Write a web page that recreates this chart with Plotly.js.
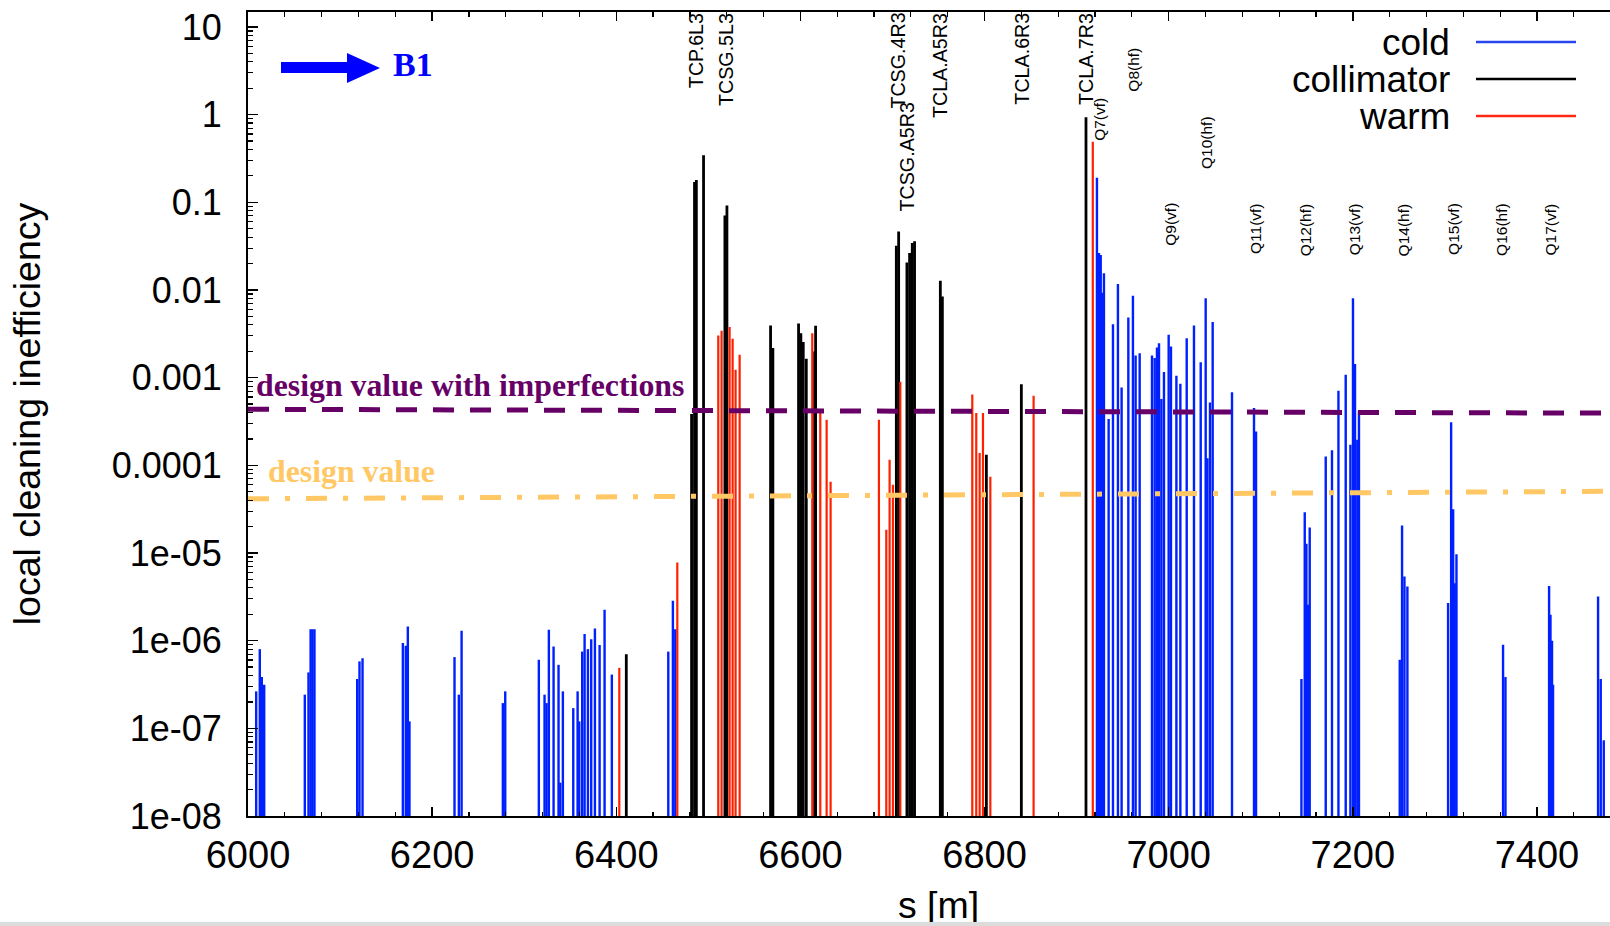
<!DOCTYPE html>
<html>
<head>
<meta charset="utf-8">
<script src="https://cdn.plot.ly/plotly-3.0.1.min.js"></script>
<style>
  html, body { margin: 0; padding: 0; overflow: hidden; background: #fff; width: 1610px; height: 926px; }
  #chart { width: 1640px; height: 926px; }
  #strip { position: absolute; left: 0; bottom: 0; width: 1610px; height: 4px; background: #dcdcdc; }
</style>
</head>
<body>
<div id="chart"></div>
<div id="strip"></div>
<script>
// ---- loss map data: s position [m] and local cleaning inefficiency ----
const coldS = [6008.9, 6012.8, 6015.0, 6017.6,
  6061.7, 6065.7, 6068.0, 6070.0, 6072.2,
  6118.6, 6121.1, 6124.4,
  6168.2, 6171.4, 6173.6, 6175.4,
  6224.3, 6229.0, 6232.0,
  6276.8, 6279.4,
  6315.9, 6322.1, 6324.3, 6326.8, 6331.9, 6337.3, 6339.2, 6342.0, 6353.3, 6358.0, 6359.8,
  6363.0, 6365.6, 6369.2, 6372.8, 6376.8, 6381.9, 6387.3, 6395.2,
  6456.5, 6461.5, 6464.1,
  6922.1, 6924.3, 6926.2, 6927.5, 6929.7, 6934.8, 6939.5, 6944.9, 6948.9, 6956.2, 6961.2,
  6964.1, 6968.5, 6981.9, 6984.8, 6987.3, 6989.5, 6992.1, 6994.9, 7000.0, 7002.5, 7008.4,
  7012.7, 7019.6, 7027.5, 7034.8, 7040.2, 7042.1, 7044.9, 7047.8,
  7068.8, 7092.7, 7094.9,
  7144.2, 7147.8, 7149.6, 7151.3, 7153.2,
  7170.6, 7177.4, 7184.4, 7192.3, 7197.4, 7200.2, 7202.4, 7204.9, 7206.7,
  7251.0, 7253.5, 7256.1, 7259.3,
  7303.5, 7306.8, 7309.0, 7310.7, 7312.6,
  7363.2, 7365.8,
  7413.2, 7414.7, 7416.4, 7417.5,
  7466.4, 7469.3, 7472.6];
const coldEta = [2.64e-7, 8.0e-7, 3.85e-7, 3.14e-7,
  2.42e-7, 4.34e-7, 1.35e-6, 1.35e-6, 1.35e-6,
  3.65e-7, 5.8e-7, 6.3e-7,
  9.4e-7, 8.75e-7, 1.45e-6, 1.2e-7,
  6.5e-7, 2.42e-7, 1.3e-6,
  1.94e-7, 2.64e-7,
  6.05e-7, 2.42e-7, 1.94e-7, 1.33e-6, 8.6e-7, 5.3e-7, 2.4e-8, 2.64e-7, 1.7e-7, 2.64e-7, 1.2e-7,
  7.5e-7, 1.19e-6, 8.0e-7, 1.04e-6, 1.38e-6, 8.9e-7, 2.25e-6, 4.1e-7,
  7.5e-7, 2.85e-6, 1.35e-6,
  0.19, 0.0263, 0.0251, 9.3e-3, 0.0155, 3.37e-4, 4.07e-3, 0.01165, 7.7e-4, 4.84e-3, 8.6e-3,
  1.79e-3, 1.9e-3, 1.79e-3, 1.67e-3, 2.2e-3, 2.47e-3, 5.7e-4, 1.16e-3, 3.08e-3, 2.26e-3, 1.05e-3,
  8.5e-4, 2.82e-3, 3.93e-3, 1.5e-3, 8.05e-3, 1.2e-4, 5.2e-4, 4.3e-3,
  6.8e-4, 4.49e-4, 2.43e-4,
  3.65e-7, 2.92e-5, 1.27e-5, 2.56e-6, 1.95e-5,
  1.26e-4, 1.48e-4, 7.1e-4, 1.08e-3, 1.71e-4, 8.05e-3, 1.43e-3, 1.95e-4, 4.18e-4,
  6.05e-7, 2.06e-5, 5.4e-6, 4.15e-6,
  2.69e-6, 3.1e-4, 3.16e-5, 4.5e-6, 9.7e-6,
  9.0e-7, 3.85e-7,
  4.2e-6, 1.97e-6, 1.0e-6, 3.14e-7,
  3.19e-6, 3.65e-7, 7.3e-8];

const collS = [6410.9, 6481.8, 6485.0, 6487.0, 6494.8, 6518.0, 6520.2, 6567.6, 6570.1,
  6598.0, 6600.5, 6603.1, 6606.4, 6615.4, 6616.5,
  6704.2, 6706.7, 6715.7, 6718.6, 6721.5, 6724.0, 6752.0, 6754.2, 6802.0, 6840.0, 6910.2];
const collEta = [7.0e-7, 3.84e-4, 0.17, 0.18, 0.344, 0.0705, 0.0916, 3.93e-3, 2.17e-3,
  4.14e-3, 3.21e-3, 2.54e-3, 1.64e-3, 1.99e-3, 3.9e-3,
  0.032, 0.0463, 0.0205, 0.0263, 0.0342, 0.036, 0.0127, 8.4e-3, 1.32e-4, 8.4e-4, 0.93];

const warmS = [6403.3, 6466.3, 6510.8, 6514.4, 6523.1, 6526.4, 6529.6, 6534.0,
  6612.9, 6621.6, 6628.5, 6632.8, 6685.3, 6693.3, 6696.9, 6700.5, 6708.5,
  6786.7, 6791.0, 6794.7, 6798.3, 6806.3, 6853.3, 6917.6];
const warmEta = [4.9e-7, 7.8e-6, 3.02e-3, 3.42e-3, 3.77e-3, 2.77e-3, 1.23e-3, 1.82e-3,
  3.21e-3, 4.0e-4, 3.3e-4, 6.5e-5, 3.3e-4, 1.84e-5, 1.16e-4, 6.0e-5, 9.0e-4,
  6.4e-4, 3.94e-4, 1.38e-4, 3.94e-4, 7.4e-5, 6.2e-4, 0.49];

// reference levels
const levelS = [6000, 7500];
const imperfEta = [4.35e-4, 3.93e-4];
const designEta = [4.15e-5, 5.06e-5];

// element names and their s positions
const elementNames = ['TCP.6L3', 'TCSG.5L3', 'TCSG.4R3', 'TCSG.A5R3', 'TCLA.A5R3', 'TCLA.6R3', 'TCLA.7R3',
  'Q7(vf)', 'Q8(hf)', 'Q9(vf)', 'Q10(hf)', 'Q11(vf)', 'Q12(hf)', 'Q13(vf)', 'Q14(hf)', 'Q15(vf)',
  'Q16(hf)', 'Q17(vf)'];
const elementS = [6486.2, 6518.7, 6705.6, 6714.7, 6751.2, 6840.3, 6910.2,
  6924.7, 6960.9, 7001.7, 7041.1, 7094.3, 7149.0, 7201.5, 7255.5, 7308.7, 7361.4, 7414.7];

const yTickVals = [10, 1, 0.1, 0.01, 0.001, 1e-4, 1e-5, 1e-6, 1e-7, 1e-8];
const yTickText = ['10', '1', '0.1', '0.01', '0.001', '0.0001', '1e-05', '1e-06', '1e-07', '1e-08'];

const seriesNames = ['cold', 'collimator', 'warm'];
const seriesColors = ['rgb(0,32,255)', '#000000', 'rgb(255,32,0)'];
const legendColors = ['rgb(40,70,240)', '#000000', 'rgb(255,40,20)'];

// ---- layout geometry (pixels) ----
const L = 248, T = 12, W = 1381, H = 804, FIG_W = 1640, FIG_H = 926;
const px = x => (x - L) / W;
const py = y => (T + H - y) / H;

const FLOOR = 1e-9;
function impulses(s, v) {
  const x = [], y = [];
  for (let i = 0; i < s.length; i++) { x.push(s[i], s[i], null); y.push(FLOOR, v[i], null); }
  return { x, y };
}

const cold = impulses(coldS, coldEta);
const coll = impulses(collS, collEta);
const warm = impulses(warmS, warmEta);

const traces = [
  { type: 'scatter', mode: 'lines', name: seriesNames[0], x: cold.x, y: cold.y,
    line: { color: seriesColors[0], width: 2.4 }, connectgaps: false },
  { type: 'scatter', mode: 'lines', name: seriesNames[1], x: coll.x, y: coll.y,
    line: { color: seriesColors[1], width: 2.8 }, connectgaps: false },
  { type: 'scatter', mode: 'lines', name: seriesNames[2], x: warm.x, y: warm.y,
    line: { color: seriesColors[2], width: 2.2 }, connectgaps: false },
  { type: 'scatter', mode: 'lines', name: 'design value with imperfections', x: levelS, y: imperfEta,
    line: { color: 'rgb(102,0,102)', width: 5, dash: '21px,16px' } },
  { type: 'scatter', mode: 'lines', name: 'design value', x: levelS, y: designEta,
    line: { color: 'rgb(255,200,100)', width: 5, dash: '21px,16px,5px,16px' } }
];

// minor ticks on the log axis: 2..9 within each decade
const yMinor = [];
for (let e = -8; e <= 1; e++) for (let k = 2; k <= 9; k++) yMinor.push(k * Math.pow(10, e));

// rotated element labels; top offsets in pixels from the frame top
const labelTopPx = [13, 13, 13, 103, 13, 13, 13, 98, 48, 203, 116, 203, 203, 203, 203, 203, 203, 203];
const annotations = elementNames.map((name, i) => ({
  text: name, x: elementS[i], xref: 'x', xanchor: 'center',
  y: 1, yref: 'paper', yanchor: 'top', yshift: -(labelTopPx[i] - T) + 2,
  textangle: -90, showarrow: false,
  font: { family: 'Liberation Sans, Arial, sans-serif', size: name.startsWith('Q') ? 15.5 : 19.7, color: '#000' }
}));

// legend drawn as text + line samples
const legendRowY = [42, 79, 116];
seriesNames.forEach((n, i) => {
  annotations.push({ text: n, xref: 'paper', yref: 'paper', x: px(1452), y: py(legendRowY[i]),
    xanchor: 'right', yanchor: 'middle', showarrow: false, height: 36, valign: 'middle',
    font: { family: 'Liberation Sans, Arial, sans-serif', size: 37, color: '#000' } });
});

annotations.push({ text: '<b>B1</b>', xref: 'paper', yref: 'paper', x: px(413), y: py(64),
  xanchor: 'center', yanchor: 'middle', showarrow: false,
  font: { family: 'Liberation Serif, Times New Roman, serif', size: 34, color: 'rgb(0,0,255)' } });
annotations.push({ text: '<b>design value with imperfections</b>', xref: 'paper', yref: 'paper',
  x: px(254), y: py(385), xanchor: 'left', yanchor: 'middle', showarrow: false,
  font: { family: 'Liberation Serif, Times New Roman, serif', size: 31.8, color: 'rgb(102,0,102)' } });
annotations.push({ text: '<b>design value</b>', xref: 'paper', yref: 'paper',
  x: px(266), y: py(472), xanchor: 'left', yanchor: 'middle', showarrow: false,
  font: { family: 'Liberation Serif, Times New Roman, serif', size: 31.8, color: 'rgb(255,200,100)' } });

const shapes = legendRowY.map((yy, i) => ({
  type: 'line', xref: 'paper', yref: 'paper', x0: px(1476), x1: px(1576), y0: py(yy), y1: py(yy),
  line: { color: legendColors[i], width: 2.5 }
}));
// beam direction arrow
shapes.push({
  type: 'path', xref: 'paper', yref: 'paper', fillcolor: 'rgb(0,0,255)', line: { width: 0 },
  path: `M ${px(281)} ${py(62)} L ${px(347)} ${py(62)} L ${px(347)} ${py(53)} L ${px(380)} ${py(68)} ` +
        `L ${px(347)} ${py(83)} L ${px(347)} ${py(73)} L ${px(281)} ${py(73)} Z`
});

const yFont = { family: 'Liberation Sans, Arial, sans-serif', size: 36, color: '#000' };
const xFont = { family: 'Liberation Sans, Arial, sans-serif', size: 38, color: '#000' };
const titleFont = { family: 'Liberation Sans, Arial, sans-serif', size: 37.5, color: '#000' };

const layout = {
  width: FIG_W, height: FIG_H,
  margin: { l: L, r: FIG_W - L - W, t: T, b: FIG_H - T - H, pad: 0 },
  paper_bgcolor: '#fff', plot_bgcolor: '#fff',
  showlegend: false, hovermode: false,
  xaxis: {
    range: [6000, 7500], tick0: 6000, dtick: 200, ticks: 'inside', ticklen: 9, tickwidth: 1.5,
    tickcolor: '#000', showline: true, linecolor: '#000', linewidth: 2, mirror: 'ticks',
    showgrid: false, zeroline: false, tickfont: xFont, ticklabelstandoff: 4,
    minor: { dtick: 40, ticks: 'inside', ticklen: 4.5, tickwidth: 1.2, tickcolor: '#000', showgrid: false },
    title: { text: 's [m]', font: titleFont, standoff: 33 }
  },
  yaxis: {
    type: 'log', range: [-8, 1.17], tickmode: 'array', tickvals: yTickVals, ticktext: yTickText,
    ticks: 'inside', ticklen: 10, tickwidth: 1.5, tickcolor: '#000',
    showline: true, linecolor: '#000', linewidth: 2, mirror: 'ticks',
    showgrid: false, zeroline: false, tickfont: yFont, ticklabelstandoff: 17,
    minor: { tickmode: 'array', tickvals: yMinor, ticks: 'inside', ticklen: 5, tickwidth: 1.2, tickcolor: '#000', showgrid: false },
    title: { text: 'local cleaning inefficiency', font: titleFont, standoff: 60 }
  },
  annotations, shapes
};

Plotly.newPlot('chart', traces, layout, { displayModeBar: false, staticPlot: true });
</script>
</body>
</html>
